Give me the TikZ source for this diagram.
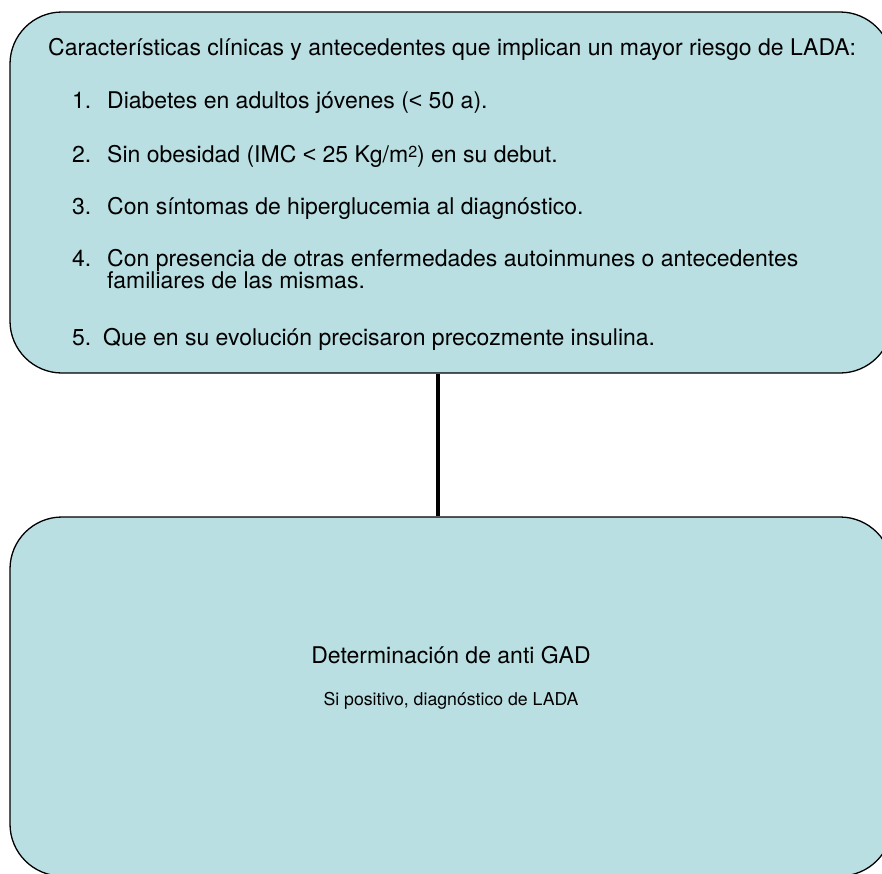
\documentclass[tikz,border=0pt]{standalone}
\usepackage{fontspec}
\setmainfont{TeX Gyre Heros}
\newfontfamily\menorfont{Liberation Sans}
\newcommand\menor{{\menorfont <}}
\usetikzlibrary{positioning}
\definecolor{ladablue}{RGB}{185,223,227}
\begin{document}
\begin{tikzpicture}[x=1pt,y=-1pt]
\tikzstyle{roundbox}=[draw=black,line width=1.3pt,fill=ladablue,rounded corners=52pt,inner sep=0pt];
\tikzstyle{itemtext}=[anchor=base west,inner sep=0pt,font=\fontsize{23}{27}\selectfont];
\tikzstyle{link}=[line width=4.5pt,draw=black];

\clip (0,0) rectangle (882,873); % page

\node[roundbox,minimum width=882pt,minimum height=361pt] (criterios) at (451,192.5) {}; % upper box
\node[roundbox,minimum width=882pt,minimum height=359pt] (gad) at (451,696.5) {}; % lower box

\draw[link] ([xshift=-13pt]criterios.south) -- ([xshift=-13pt]gad.north);

\node[itemtext] (titulo) at (48,55) {Características clínicas y antecedentes que implican un mayor riesgo de LADA:};

\def \numx{72};
\def \txtx{107};
\foreach \n/\y/\txt in {1/108/{Diabetes en adultos jóvenes (\menor{} 50 a).},
                        2/162/{Sin obesidad (IMC \menor{} 25 Kg/m{\fontsize{16}{16}\selectfont\raisebox{5pt}{2}}) en su debut.},
                        3/214/{Con síntomas de hiperglucemia al diagnóstico.},
                        4/266/{Con presencia de otras enfermedades autoinmunes o antecedentes}}{
  \node[itemtext] (num\n) at (\numx,\y) {\n.};
  \node[itemtext] (item\n) at (\txtx,\y) {\txt};
}
\node[itemtext] (item4b) at (\txtx,288) {familiares de las mismas.};
\node[itemtext] (num5) at (\numx,345) {5.};
\node[itemtext] (item5) at (103,345) {Que en su evolución precisaron precozmente insulina.};

\node[anchor=base,inner sep=0pt,font=\fontsize{23}{27}\selectfont] (determinacion) at (451,663) {Determinación de anti GAD};
\node[anchor=base,inner sep=0pt,font=\fontsize{17.7}{21}\selectfont] (positivo) at (451,705) {Si positivo, diagnóstico de LADA};

\end{tikzpicture}
\end{document}
